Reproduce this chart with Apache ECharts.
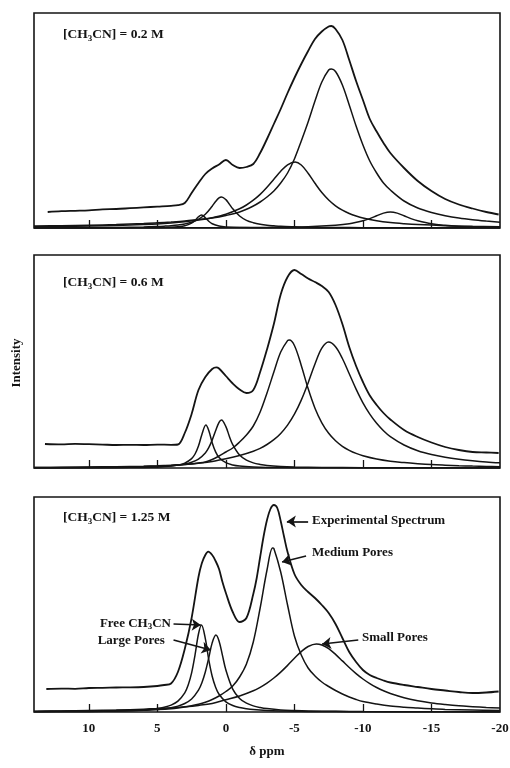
<!DOCTYPE html>
<html>
<head>
<meta charset="utf-8">
<script src="https://cdn.jsdelivr.net/npm/echarts@6/dist/echarts.min.js"></script>
<style>
  html, body { margin: 0; padding: 0; background: #fff; }
  #chart { width: 510px; height: 768px; }
</style>
</head>
<body>
<div id="chart"></div>
<script>
// CH3CN NMR line-shape deconvolution at three loadings.
// Every curve is a list of [chemical shift (ppm), intensity] pairs.

const ppmTicks = [10, 5, 0, -5, -10, -15];
const ppmLabels = [10, 5, 0, -5, -10, -15, -20];
const concentrations = ['0.2', '0.6', '1.25'];

// ---- [CH3CN] = 0.2 M ----
const p1Exp = [[13,16],[12,16.8],[11,17.2],[10,17.6],[9,18.6],[8,19],[7,19.8],[6,20.6],[5,21.4],[4,22.2],[3.5,22.8],[3,25],[2.5,35],[2,45],[1.5,54],[1,59.5],[0.5,63.5],[0,68],[-0.5,63],[-1,60],[-1.5,61],[-2,64],[-2.5,75],[-3,89],[-3.5,104],[-4,119],[-4.5,135],[-5,150],[-5.5,164],[-6,177],[-6.5,189],[-7,196.5],[-7.5,201.5],[-7.7,202],[-8,199],[-8.5,188],[-9,168],[-9.5,147],[-10,128],[-10.5,109],[-11,96.5],[-11.5,85],[-12,75],[-13,60],[-14,47],[-15,37],[-16,29],[-17,23.5],[-18,19.5],[-19,16],[-19.9,13.5]];
const p1Small = [[14,2],[12,2.3],[10,2.8],[8,3.5],[6,4.5],[5,5.2],[4,6],[3,7],[2,8.5],[1,10],[0,12.5],[-1,16],[-2,22],[-2.5,26],[-3,31],[-3.5,37],[-4,45],[-4.5,55],[-5,69],[-5.5,87],[-6,106],[-6.5,127],[-7,146],[-7.5,158],[-7.7,159],[-8,156.5],[-8.5,143],[-9,123],[-9.5,102],[-10,83],[-10.5,67],[-11,55],[-11.5,45],[-12,38],[-13,27],[-14,20],[-15,15.5],[-16,12.3],[-17,9.9],[-18,8.2],[-19,6.9],[-20,5.8]];
const p1Medium = [[14,1.2],[12,1.5],[10,1.9],[8,2.5],[6,3.5],[5,4.1],[4,5],[3,6.2],[2,7.9],[1,10.3],[0,13.8],[-1,19.2],[-1.5,23],[-2,27.8],[-2.5,33.6],[-3,40.7],[-3.5,48.7],[-4,56.7],[-4.5,63.2],[-5.05,66],[-5.5,63],[-6,54.8],[-6.5,44.7],[-7,35.4],[-7.5,28],[-8,22.2],[-8.5,17.8],[-9,14.5],[-9.5,12],[-10,10],[-11,7.3],[-12,5.5],[-13,4.3],[-14,3.4],[-16,2.3],[-18,1.7],[-20,1.3]];
const p1Large = [[14,0.2],[10,0.4],[8,0.5],[6,1],[5,1.5],[4.5,1.85],[4,2.3],[3.5,3],[3,4.1],[2.5,5.8],[2,8.7],[1.5,13.7],[1,21.8],[0.75,26.5],[0.5,30.1],[0.32,31],[0,28.4],[-0.25,23.9],[-0.5,19.2],[-1,12],[-1.5,7.7],[-2,5.3],[-2.5,3.8],[-3,2.8],[-3.5,2.2],[-4,1.7],[-5,1.2],[-6,0.8],[-8,0.5],[-10,0.35],[-14,0.2],[-20,0.1]];
const p1Free = [[14,0.03],[8,0.1],[5,0.35],[4,0.7],[3.5,1.2],[3,2.2],[2.5,4.8],[2.25,7.5],[2,11.2],[1.78,13],[1.5,10.3],[1.25,6.7],[1,4.3],[0.5,2],[0,1.1],[-1,0.5],[-3,0.15],[-6,0.06],[-20,0.01]];
const p1Extra = [[14,0.08],[5,0.17],[0,0.35],[-3,0.6],[-6,1.3],[-8,2.7],[-9,4.2],[-10,7.2],[-10.5,9.4],[-11,12.2],[-11.5,14.9],[-12,16],[-12.5,14.9],[-13,12.2],[-13.5,9.4],[-14,7.2],[-15,4.2],[-16,2.7],[-17,1.8],[-18,1.3],[-19,1],[-20,0.8]];

// ---- [CH3CN] = 0.6 M ----
const p2Exp = [[13.2,24],[12,23.6],[11,24.2],[10,23.8],[9,23.4],[8,23],[7,23.2],[6,23],[5,23.4],[4,23.2],[3.5,23.5],[3,35],[2.5,54],[2,78],[1.5,91],[1,99],[0.7,100.7],[0.5,99.5],[0,92],[-0.5,84.5],[-1,78.5],[-1.5,75],[-2,78],[-2.5,96],[-3,118.6],[-3.5,144],[-4,173.5],[-4.5,191],[-5,198],[-5.5,194],[-6,189.5],[-6.5,186],[-7,182],[-7.5,176],[-8,163],[-8.5,144],[-9,121],[-9.5,102],[-10,86],[-10.5,72.5],[-11,63],[-11.5,55],[-12,48.5],[-13,38],[-14,31],[-15,25.5],[-16,21],[-17,18],[-18,16],[-19,15.5],[-19.9,15]];
const p2Medium = [[14,0.5],[12,0.7],[10,1],[8,1.3],[6,1.8],[5,2.2],[4,2.8],[3,3.5],[2,5],[1.5,6],[1,8.5],[0.5,12],[0,16],[-0.5,20],[-1,26],[-1.5,33],[-2,42],[-2.5,56],[-3,75],[-3.5,96],[-4,116],[-4.5,127.4],[-4.63,128],[-5,122.5],[-5.5,102.6],[-6,79.4],[-6.5,59.8],[-7,45.2],[-7.5,34.7],[-8,27.2],[-8.5,21.7],[-9,17.7],[-9.5,14.6],[-10,12.3],[-11,9],[-12,6.8],[-13,5.4],[-14,4.3],[-15,3.4],[-16,2.8],[-17,2.3],[-18,1.9],[-19,1.6],[-20,1.3]];
const p2Small = [[14,0.5],[12,0.6],[10,0.8],[8,1.1],[6,1.6],[5,2],[4,2.6],[3,3.5],[2,4.8],[1,6.5],[0,9.2],[-1,12.5],[-2,16.8],[-2.5,19.7],[-3,23.5],[-3.5,28.3],[-4,34.6],[-4.5,42.9],[-5,53.8],[-5.5,67.9],[-6,85.1],[-6.5,104],[-7,119.8],[-7.49,126],[-8,121.3],[-8.5,109.5],[-9,94.2],[-9.5,78.9],[-10,65.2],[-10.5,53.9],[-11,44.7],[-11.5,37.3],[-12,31.4],[-13,23],[-14,17.3],[-15,13.5],[-16,10.8],[-17,8.8],[-18,7.3],[-19,6.1],[-20,5.2]];
const p2Free = [[14,0.1],[8,0.3],[6,0.6],[5,1],[4,1.9],[3.5,2.9],[3,4.9],[2.5,9.4],[2.25,14],[2,21.9],[1.75,33.6],[1.46,43],[1.25,37.5],[1,25.3],[0.75,16.1],[0.5,10.6],[0,5.3],[-0.5,3.1],[-1,2],[-2,1.06],[-3,0.6],[-5,0.3],[-10,0.1],[-20,0.05]];
const p2Large = [[14,0.15],[8,0.5],[6,0.93],[5,1.36],[4,2.2],[3.5,2.9],[3,3.9],[2.5,5.7],[2,8.9],[1.5,15.1],[1.25,20.4],[1,27.9],[0.75,37.2],[0.5,45.7],[0.32,48],[0,41.4],[-0.25,31.8],[-0.5,23.4],[-1,12.9],[-1.5,7.8],[-2,5.1],[-2.5,3.6],[-3,2.6],[-4,1.6],[-5,1.1],[-7,0.6],[-10,0.3],[-20,0.1]];

// ---- [CH3CN] = 1.25 M ----
const p3Exp = [[13.1,23],[12,23.4],[11,23.2],[10,24],[9,24.2],[8,24.5],[7,24.6],[6,25],[5,26],[4.5,27],[4,28.5],[3.5,40],[3,63],[2.5,94],[2,135],[1.75,149],[1.5,157],[1.29,160.3],[1,157],[0.75,151],[0.5,143],[0.25,130],[0,119],[-0.5,100],[-1,90],[-1.5,94],[-2,118],[-2.25,134],[-2.5,155],[-2.75,175.5],[-3,192],[-3.25,203],[-3.5,207],[-3.75,204],[-4,191],[-4.25,175],[-4.5,160],[-5,138],[-5.5,127],[-6,120],[-6.5,114],[-7,107],[-7.5,99],[-8,88],[-8.5,74],[-9,60],[-9.5,50],[-10,42],[-10.5,37],[-11,34],[-11.5,31.5],[-12,29.5],[-13,27],[-14,25],[-15,23],[-16,21.5],[-17,20],[-18,19],[-19,19.5],[-19.9,20.5]];
const p3Medium = [[14,0.6],[12,0.8],[10,1.1],[8,1.5],[6,2],[5,2.5],[4,3.3],[3.5,4],[3,5],[2.5,6.3],[2,7.8],[1.5,9.8],[1,12.5],[0.5,16],[0,20.5],[-0.5,26],[-1,35],[-1.5,48],[-2,70],[-2.5,104],[-3,142],[-3.4,164],[-3.5,163.5],[-4,140],[-4.5,107],[-5,76],[-5.5,57],[-6,44],[-6.5,36],[-7,30],[-7.5,25.5],[-8,21.5],[-8.5,18],[-9,15],[-9.5,12.5],[-10,10.5],[-11,8],[-12,6],[-13,4.8],[-14,4],[-15,3.2],[-16,2.6],[-18,2],[-20,1.5]];
const p3Small = [[14,0.8],[12,1.1],[10,1.5],[8,2],[6,2.8],[5,3.4],[4,4.2],[3,5.2],[2,6.6],[1,8.6],[0,12.3],[-1,16],[-2,21.2],[-2.5,24.7],[-3,28.9],[-3.5,34],[-4,39.9],[-4.5,46.6],[-5,53.7],[-5.5,60.4],[-6,65.5],[-6.6,68],[-7,67],[-7.5,63.3],[-8,57.6],[-8.5,51.1],[-9,44.5],[-9.5,38.4],[-10,33],[-10.5,28.4],[-11,24.5],[-11.5,21.2],[-12,18.5],[-13,14.3],[-14,11.3],[-15,9.1],[-16,7.5],[-17,6.2],[-18,5.3],[-19,4.5],[-20,3.9]];
const p3Free = [[14,0.25],[10,0.54],[8,0.95],[6,2],[5,3.45],[4.5,4.7],[4,6.9],[3.5,10.9],[3,19.2],[2.75,27],[2.5,39.1],[2.25,57.1],[2,78],[1.78,87],[1.5,73.4],[1.25,52.3],[1,35.7],[0.75,24.8],[0.5,17.8],[0,10.2],[-0.5,6.5],[-1,4.5],[-1.5,3.3],[-2,2.5],[-3,1.6],[-4,1.1],[-5,0.8],[-6,0.6],[-8,0.4],[-10,0.3],[-14,0.2],[-20,0.1]];
const p3Large = [[14,0.3],[10,0.57],[8,0.92],[6,1.7],[5,2.6],[4.5,3.3],[4,4.3],[3.5,5.9],[3,8.5],[2.5,13],[2,21.9],[1.75,29.3],[1.5,40],[1.25,54.1],[1,69.1],[0.73,77],[0.5,71.1],[0.25,56.6],[0,42],[-0.5,22.9],[-1,13.6],[-1.5,8.8],[-2,6.1],[-2.5,4.5],[-3,3.4],[-4,2.1],[-5,1.5],[-6,1.1],[-8,0.7],[-10,0.45],[-14,0.25],[-20,0.15]];

// Call-outs on the 1.25 M panel: text anchor, arrow tail, arrow tip (ppm, intensity)
const noteTexts = ['Experimental Spectrum', 'Medium Pores', 'Small Pores', 'Free CH{s|3}CN', 'Large Pores'];
const noteTextAt = [[-6.28, 191], [-6.28, 159], [-9.93, 74], [4.01, 88.7], [4.45, 71]];
const noteTails = [[-6.0, 190.5], [-5.85, 156], [-9.66, 72], [3.82, 88], [3.82, 72]];
const noteTips = [[-4.45, 190.5], [-4.1, 150], [-7.02, 68], [1.83, 87], [1.1, 62]];

// ---- drawing ----
const FONT = '"Liberation Serif", "Times New Roman", serif';
const INK = '#141414';
const frames = [{ top: 13, height: 215 }, { top: 255, height: 213 }, { top: 497, height: 215 }];
const panelCurves = [
  { exp: p1Exp, parts: [p1Small, p1Medium, p1Large, p1Free, p1Extra] },
  { exp: p2Exp, parts: [p2Medium, p2Small, p2Free, p2Large] },
  { exp: p3Exp, parts: [p3Medium, p3Small, p3Free, p3Large] }
];
const sub = { fontSize: 9, fontWeight: 'bold', fontFamily: FONT, color: INK, padding: [7, 0, 0, 0] };

const chart = echarts.init(document.getElementById('chart'), null, { renderer: 'canvas' });

const grid = frames.map(f => ({
  left: 34, right: 10, top: f.top, height: f.height,
  show: true, borderColor: INK, borderWidth: 1.6, backgroundColor: '#fff',
  outerBoundsMode: 'none', containLabel: false
}));

const xAxis = frames.map((f, i) => ({
  gridIndex: i, type: 'value', min: -20, max: 14, inverse: true,
  axisLine: { show: false },
  splitLine: { show: false },
  axisTick: { show: true, inside: true, length: 8, customValues: ppmTicks, lineStyle: { color: INK, width: 1.3 } },
  axisLabel: {
    show: i === 2, customValues: ppmLabels, margin: 10,
    color: INK, fontFamily: FONT, fontWeight: 'bold', fontSize: 13
  },
  name: i === 2 ? 'δ ppm' : '', nameLocation: 'middle', nameGap: 33,
  nameTextStyle: { color: INK, fontFamily: FONT, fontWeight: 'bold', fontSize: 13 }
}));

const yAxis = frames.map((f, i) => ({ gridIndex: i, type: 'value', min: 0, max: f.height, show: false }));

const lineSeries = (data, i, width) => ({
  type: 'line', xAxisIndex: i, yAxisIndex: i, data: data,
  showSymbol: false, smooth: 0.35, silent: true, animation: false,
  lineStyle: { color: INK, width: width }
});

const series = [];
panelCurves.forEach((p, i) => {
  p.parts.forEach(d => series.push(lineSeries(d, i, 1.5)));
  series.push(lineSeries(p.exp, i, 1.8));
});

// arrows and call-out texts ride on the 1.25 M experimental trace
const calloutHost = series[series.length - 1];
calloutHost.markLine = {
  silent: true, animation: false, symbol: ['none', 'arrow'], symbolSize: 9,
  label: { show: false },
  emphasis: { disabled: true },
  lineStyle: { type: 'solid', color: INK, width: 1.7 },
  data: noteTails.map((t, k) => [{ coord: t }, { coord: noteTips[k] }])
};
calloutHost.markPoint = {
  silent: true, animation: false, symbol: 'circle', symbolSize: 0,
  data: noteTexts.map((t, k) => ({
    coord: noteTextAt[k], value: 0,
    label: {
      show: true, position: 'inside', formatter: t,
      align: noteTextAt[k][0] > 0 ? 'right' : 'left', verticalAlign: 'middle',
      color: INK, fontFamily: FONT, fontWeight: 'bold', fontSize: 13,
      rich: { s: sub }
    }
  }))
};

const titleY = [35, 283, 518];
const graphic = concentrations.map((c, i) => ({
  type: 'text', x: 63, y: titleY[i], silent: true,
  style: {
    text: '[CH{s|3}CN] = ' + c + ' M', verticalAlign: 'middle', align: 'left',
    fill: INK, font: 'bold 13.5px ' + FONT, rich: { s: sub }
  }
}));
graphic.push({
  type: 'text', x: 17, y: 363, rotation: Math.PI / 2, silent: true,
  style: { text: 'Intensity', align: 'center', verticalAlign: 'middle', fill: INK, font: 'bold 13px ' + FONT }
});

chart.setOption({
  backgroundColor: '#fff',
  animation: false,
  grid: grid,
  xAxis: xAxis,
  yAxis: yAxis,
  series: series,
  graphic: graphic
});
</script>
</body>
</html>
